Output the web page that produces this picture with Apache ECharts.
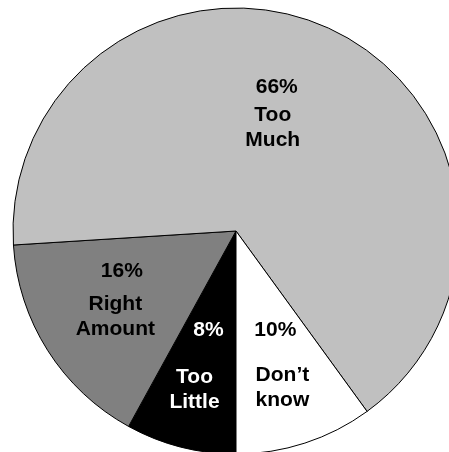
<!DOCTYPE html>
<html>
<head>
<meta charset="utf-8">
<script src="https://cdn.jsdelivr.net/npm/echarts@6/dist/echarts.min.js"></script>
<style>html,body{margin:0;padding:0;background:#fff;}#c{width:449px;height:452px;}</style>
</head>
<body>
<div id="c"></div>
<script>
var categories = ['Too Little', 'Right Amount', 'Too Much', 'Don\u2019t know'];
var nameLines = [['Too', 'Little'], ['Right', 'Amount'], ['Too', 'Much'], ['Don\u2019t', 'know']];
var values = [8, 16, 66, 10];

var colors = ['#000000', '#808080', '#c0c0c0', '#ffffff'];
var textColors = ['#ffffff', '#000000', '#000000', '#000000'];
var pctLineHeights = [69, 41, 31, 65];
var pctPadding = [[0,0,0,28], [0,0,0,13], [0,0,0,8], [0,14,0,0]];
var shifts = [[-13, 13], [-24, 4], [-12, -15], [11, 15]];

var font = {fontFamily: '"Liberation Sans", Arial, sans-serif', fontWeight: 'bold', fontSize: 21};

var data = categories.map(function (c, i) {
  return {
    name: c,
    value: values[i],
    itemStyle: {color: colors[i]},
    label: {
      color: textColors[i],
      rich: {
        p: Object.assign({color: textColors[i], lineHeight: pctLineHeights[i], padding: pctPadding[i]}, font),
        n: Object.assign({color: textColors[i], lineHeight: 25}, font)
      }
    }
  };
});

var chart = echarts.init(document.getElementById('c'), null, {renderer: 'canvas'});
chart.setOption({
  animation: false,
  backgroundColor: '#ffffff',
  series: [{
    type: 'pie',
    center: [236, 231],
    radius: 223,
    startAngle: 270,
    clockwise: true,
    avoidLabelOverlap: false,
    silent: true,
    itemStyle: {borderColor: '#000000', borderWidth: 1},
    label: Object.assign({
      show: true,
      position: 'inside',
      align: 'center',
      formatter: function (p) {
        var lines = nameLines[p.dataIndex];
        return '{p|' + p.value + '%}\n{n|' + lines[0] + '}\n{n|' + lines[1] + '}';
      }
    }, font),
    labelLine: {show: false},
    labelLayout: function (p) {
      return {dx: shifts[p.dataIndex][0], dy: shifts[p.dataIndex][1]};
    },
    data: data
  }]
});
</script>
</body>
</html>
